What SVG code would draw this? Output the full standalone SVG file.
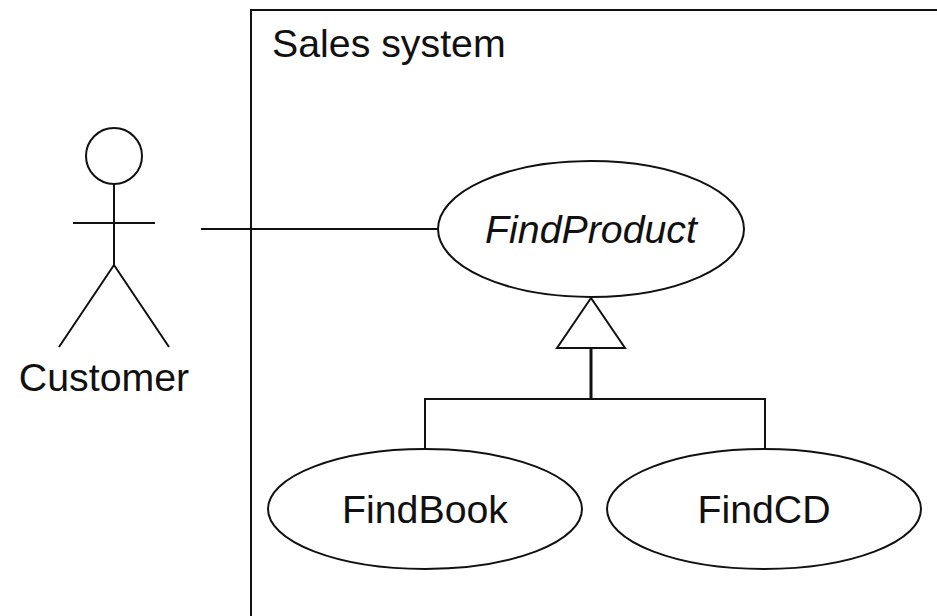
<svg xmlns="http://www.w3.org/2000/svg" width="937" height="616" viewBox="0 0 937 616">
<style>
.l{fill:none;stroke:#111;stroke-width:2}
.e{fill:#fff;stroke:#111;stroke-width:2}
text{font-family:"Liberation Sans",Arial,sans-serif;font-size:39.3px;fill:#111}
.c{text-anchor:middle}
</style>
<rect width="937" height="616" fill="#fff"/>
<g id="system"><path class="l" d="M251 616V10H937"/><text x="272" y="57">Sales system</text></g>
<g id="connectors">
<path class="l" d="M201 229H439"/>
<path class="l" d="M425 449V399H765V449"/>
<path class="l" stroke-width="3" style="stroke-width:3" d="M591 399V348"/>
<polygon class="e" points="591,298 557,348 625,348"/>
</g>
<g id="customer"><circle class="e" cx="114" cy="156" r="28"/><path class="l" d="M114 184V265M73 223H155M114 265L59 347M114 265L169 347"/><text class="c" x="104" y="391">Customer</text></g>
<g id="findproduct"><ellipse class="e" cx="591" cy="229" rx="153" ry="68"/><text class="c" x="591" y="243" font-style="italic">FindProduct</text></g>
<g id="findbook"><ellipse class="e" cx="425" cy="509" rx="157" ry="60"/><text class="c" x="425" y="523">FindBook</text></g>
<g id="findcd"><ellipse class="e" cx="764" cy="509" rx="157" ry="60"/><text class="c" x="764" y="523">FindCD</text></g>
</svg>
